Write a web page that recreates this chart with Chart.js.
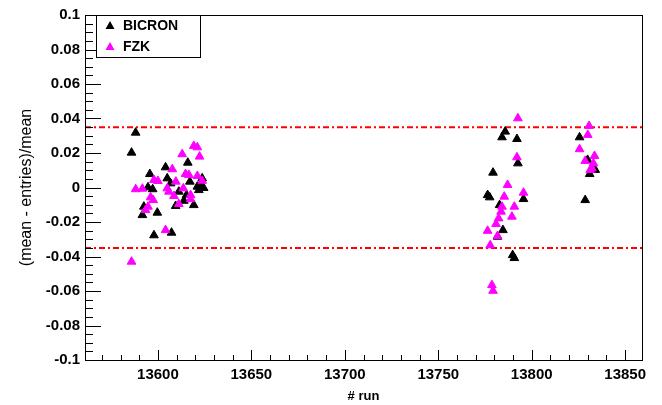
<!DOCTYPE html>
<html lang="en">
<head>
    <meta charset="UTF-8">
    <title>(mean - entries)/mean vs run</title>
    <script src="https://cdn.jsdelivr.net/npm/chart.js"></script>
    <style>
        body {
            margin: 0;
            background-color: #ffffff;
        }
        canvas {
            display: block;
        }
    </style>
</head>
<body>
    <canvas id="devChart" width="662" height="405"></canvas>
    <script>
        // BICRON (black triangles)
        const bicronRun = [13588.1, 13585.9, 13616.0, 13604.1, 13595.7, 13605.0, 13617.1, 13606.8, 13594.7, 13597.2,
            13621.1, 13623.7, 13621.9, 13611.2, 13613.9, 13619.2, 13609.5, 13592.5, 13591.7, 13599.7,
            13597.9, 13607.3, 13622.8, 13615.3, 13624.5,
            13785.8, 13784.1, 13792.1, 13792.6, 13779.3, 13776.4, 13777.5, 13795.6, 13782.8, 13784.6,
            13781.7, 13789.8, 13790.7,
            13825.6, 13829.9, 13834.0, 13831.0, 13828.6];
        const bicronDev = [0.0318, 0.0202, 0.0144, 0.0117, 0.0078, 0.0053, 0.0034, 0.0024, 0.0001, -0.0010,
            0.0005, 0.0053, -0.0015, -0.0024, -0.0077, -0.0102, -0.0107, -0.0111, -0.0160, -0.0146,
            -0.0277, -0.0262, 0.0015, -0.0044, -0.0003,
            0.0324, 0.0291, 0.0281, 0.0140, 0.0086, -0.0044, -0.0057, -0.0067, -0.0102, -0.0247,
            -0.0285, -0.0392, -0.0409,
            0.0291, 0.0160, 0.0102, 0.0078, -0.0073];

        // FZK (magenta triangles)
        const fzkRun = [13619.2, 13621.1, 13613.0, 13622.3, 13607.7, 13614.8, 13616.6, 13621.1, 13597.9, 13600.0,
            13609.6, 13623.7, 13588.1, 13591.7, 13605.0, 13613.6, 13605.9, 13608.6, 13617.5, 13596.1,
            13597.5, 13617.5, 13611.2, 13594.7, 13593.4, 13604.1, 13585.9,
            13792.6, 13792.1, 13787.1, 13795.6, 13785.3, 13790.7, 13784.1, 13783.6, 13789.4, 13782.3,
            13780.9, 13776.4, 13781.7, 13777.8, 13778.7, 13779.3,
            13830.7, 13830.0, 13825.6, 13833.6, 13828.6, 13833.0, 13832.2, 13831.3];
        const fzkDev = [0.0241, 0.0233, 0.0193, 0.0179, 0.0106, 0.0078, 0.0073, 0.0067, 0.0044, 0.0038,
            0.0034, 0.0039, -0.0010, -0.0007, -0.0005, -0.0005, -0.0024, -0.0049, -0.0044, -0.0057,
            -0.0073, -0.0068, -0.0096, -0.0111, -0.0131, -0.0247, -0.0430,
            0.0401, 0.0175, 0.0015, -0.0030, -0.0053, -0.0111, -0.0111, -0.0140, -0.0169, -0.0179,
            -0.0212, -0.0251, -0.0281, -0.0335, -0.0566, -0.0599,
            0.0357, 0.0305, 0.0222, 0.0183, 0.0154, 0.0140, 0.0111, 0.0102];

        // limits (red dash-dot lines)
        const limitLevels = [0.035, -0.035];

        // axis ranges
        const runMin = 13561;
        const runMax = 13859;
        const devMin = -0.1;
        const devMax = 0.1;

        const seriesNames = ["BICRON", "FZK"];
        const seriesColors = ["#000000", "#ff00ff"];

        const toPoints = (xs, ys) => xs.map((x, i) => ({ x: x, y: ys[i] }));

        const limitSets = limitLevels.map(v => ({
            type: "line",
            data: [{ x: runMin, y: v }, { x: runMax, y: v }],
            borderColor: "#ff0000",
            borderWidth: 2,
            borderDash: [6, 3, 2, 3],
            pointRadius: 0,
            fill: false,
            order: 3
        }));

        // ticks inside the frame, frame, legend box
        const framePlugin = {
            id: "frame",
            afterDatasetsDraw(chart) {
                const ctx = chart.ctx;
                const a = chart.chartArea;
                const xs = chart.scales.x;
                const ys = chart.scales.y;
                ctx.save();
                ctx.strokeStyle = "#000";
                ctx.lineWidth = 1;
                ctx.beginPath();
                for (let v = 13570; v <= runMax; v += 10) {
                    const px = Math.round(xs.getPixelForValue(v)) + 0.5;
                    const len = v % 50 === 0 ? 10 : 5;
                    ctx.moveTo(px, a.bottom);
                    ctx.lineTo(px, a.bottom - len);
                }
                for (let k = -20; k <= 20; k++) {
                    const v = k * 0.005;
                    const py = Math.round(ys.getPixelForValue(v)) + 0.5;
                    const len = k % 4 === 0 ? 16 : 8;
                    ctx.moveTo(a.left, py);
                    ctx.lineTo(a.left + len, py);
                }
                ctx.stroke();
                ctx.strokeRect(Math.round(a.left) + 0.5, Math.round(a.top) + 0.5,
                    Math.round(a.right - a.left), Math.round(a.bottom - a.top));

                // legend
                const lx = 96, ly = 15, lw = 104, lh = 42;
                ctx.fillStyle = "#fff";
                ctx.fillRect(lx, ly, lw, lh);
                ctx.strokeRect(lx + 0.5, ly + 0.5, lw, lh);
                ctx.font = "bold 14px 'Liberation Sans', Arial, sans-serif";
                ctx.textBaseline = "middle";
                seriesNames.forEach((name, i) => {
                    const cy = ly + 10.5 + i * 21;
                    ctx.fillStyle = seriesColors[i];
                    ctx.beginPath();
                    ctx.moveTo(110, cy - 4.5);
                    ctx.lineTo(114.5, cy + 3.5);
                    ctx.lineTo(105.5, cy + 3.5);
                    ctx.closePath();
                    ctx.fill();
                    ctx.fillStyle = "#000";
                    ctx.fillText(name, 123, cy + 1);
                });
                ctx.restore();
            }
        };

        new Chart(document.getElementById("devChart"), {
            type: "scatter",
            data: {
                datasets: [
                    ...limitSets,
                    {
                        label: seriesNames[0],
                        data: toPoints(bicronRun, bicronDev),
                        pointStyle: "triangle",
                        pointRadius: 5,
                        backgroundColor: seriesColors[0],
                        borderColor: seriesColors[0],
                        borderWidth: 1,
                        order: 2
                    },
                    {
                        label: seriesNames[1],
                        data: toPoints(fzkRun, fzkDev),
                        pointStyle: "triangle",
                        pointRadius: 5,
                        backgroundColor: seriesColors[1],
                        borderColor: seriesColors[1],
                        borderWidth: 1,
                        order: 1
                    }
                ]
            },
            options: {
                responsive: false,
                animation: false,
                layout: {
                    padding: { left: 0, right: 20, top: 15, bottom: 0 }
                },
                plugins: {
                    legend: { display: false },
                    tooltip: { enabled: false }
                },
                scales: {
                    x: {
                        type: "linear",
                        min: runMin,
                        max: runMax,
                        afterBuildTicks(scale) {
                            scale.ticks = [13600, 13650, 13700, 13750, 13800, 13850].map(v => ({ value: v }));
                        },
                        afterFit(scale) {
                            scale.height = 45;
                        },
                        grid: { display: false, drawTicks: false },
                        border: { display: false },
                        ticks: {
                            color: "#000",
                            padding: 6,
                            maxRotation: 0,
                            font: { family: "'Liberation Sans', Arial, sans-serif", size: 15, weight: "bold" },
                            callback: v => String(v)
                        },
                        title: {
                            display: true,
                            text: "# run",
                            color: "#000",
                            padding: { top: 0, bottom: 1 },
                            font: { family: "'Liberation Sans', Arial, sans-serif", size: 13, weight: "bold" }
                        }
                    },
                    y: {
                        min: devMin,
                        max: devMax,
                        afterFit(scale) {
                            scale.width = 85;
                        },
                        grid: { display: false, drawTicks: false },
                        border: { display: false },
                        ticks: {
                            stepSize: 0.02,
                            color: "#000",
                            padding: 5,
                            font: { family: "'Liberation Sans', Arial, sans-serif", size: 15, weight: "bold" },
                            callback: v => String(Number(v.toFixed(2)))
                        },
                        title: {
                            display: true,
                            text: "(mean - entries)/mean",
                            color: "#000",
                            padding: { top: 17, bottom: 0 },
                            font: { family: "'Liberation Sans', Arial, sans-serif", size: 16, weight: "normal" }
                        }
                    }
                }
            },
            plugins: [framePlugin]
        });
    </script>
</body>
</html>
